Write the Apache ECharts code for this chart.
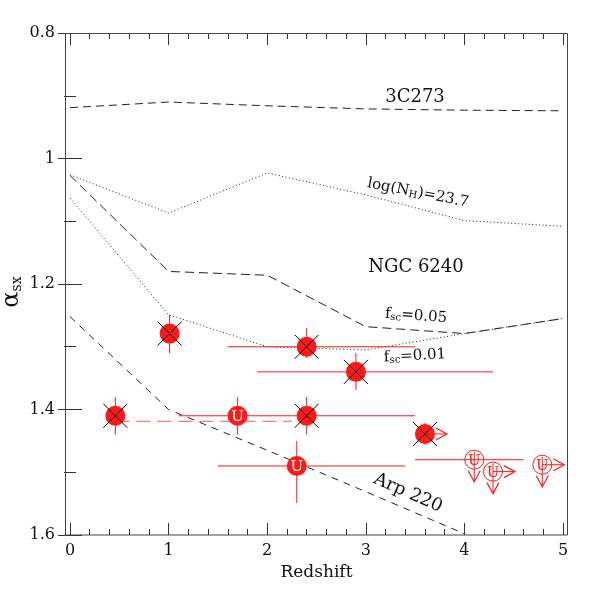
<!DOCTYPE html>
<html>
<head>
<meta charset="utf-8">
<script src="https://cdn.jsdelivr.net/npm/echarts@6/dist/echarts.min.js"></script>
<style>html,body{margin:0;padding:0;background:#fff}#c{width:599px;height:599px}</style>
</head>
<body>
<div id="c"></div>
<script>
// ---- model curves (redshift vs alpha_sx) ----
const curveZ   = [0, 1, 2, 3, 4, 5];
const c3C273   = [0.919, 0.910, 0.916, 0.921, 0.923, 0.924];
const cLogNH   = [1.026, 1.087, 1.023, 1.058, 1.099, 1.108];
const cFsc05   = [1.027, 1.180, 1.186, 1.268, 1.279, 1.255];
const cFsc01   = [1.063, 1.249, 1.300, 1.305, 1.279, 1.255];
const arpZ     = [0, 1, 2, 3, 4];
const cArp220  = [1.252, 1.400, 1.465, 1.531, 1.598];

// ---- measured sources ----
const pointZ     = [1.01, 2.40, 2.90, 0.46, 1.70, 2.40, 2.30, 3.60, 4.10, 4.29, 4.79];
const pointAlpha = [1.279, 1.300, 1.340, 1.410, 1.410, 1.410, 1.490, 1.439, 1.480, 1.499, 1.488];
const pointType  = ['x', 'x', 'x', 'x', 'u', 'x', 'u', 'x', 'o', 'o', 'o'];
const zErrLow    = [null, 1.60, 1.90, null, 1.10, 2.40, 1.50, null, 3.50, null, null];
const zErrHigh   = [null, 3.50, 4.29, null, 2.40, 3.50, 3.40, null, 4.60, null, null];
const aErrLow    = [1.249, 1.270, 1.310, 1.380, 1.380, 1.380, 1.450, 1.421, null, null, null];
const aErrHigh   = [1.310, 1.318, 1.369, 1.440, 1.440, 1.440, 1.549, 1.456, null, null, null];
const zLowerLim  = [0, 0, 0, 0, 0, 0, 0, 1, 0, 1, 1];
const aUpperLim  = [0, 0, 0, 0, 0, 0, 0, 0, 1, 1, 1];
// photometric redshift range of the z~0.46 source (dashed)
const rangeZ     = [0.46, 2.25];
const rangeAlpha = [1.419, 1.419];

const SERIF = '"DejaVu Serif", "Liberation Serif", serif';
const RED = '#ff1a1a';

function renderPoint(params, api) {
  const i = params.dataIndex;
  const z = pointZ[i], a = pointAlpha[i];
  const c = api.coord([z, a]);
  const ch = [];
  const ln = (x1, y1, x2, y2, col, w) => ch.push({type: 'line', shape: {x1, y1, x2, y2}, style: {stroke: col || RED, lineWidth: w || 1}});
  if (zErrLow[i] != null) {
    const p = api.coord([zErrLow[i], a]), q = api.coord([zErrHigh[i], a]);
    ln(p[0], p[1], q[0], q[1]);
  }
  if (aErrLow[i] != null) {
    const p = api.coord([z, aErrLow[i]]), q = api.coord([z, aErrHigh[i]]);
    ln(p[0], p[1], q[0], q[1]);
  }
  const cx = c[0], cy = c[1];
  if (zLowerLim[i]) {
    ln(cx, cy, cx + 22, cy);
    ch.push({type: 'polyline', shape: {points: [[cx + 11, cy - 6], [cx + 22, cy], [cx + 11, cy + 6]]}, style: {stroke: RED, fill: null, lineWidth: 1.2}});
  }
  if (aUpperLim[i]) {
    ln(cx, cy - 8, cx, cy + 22);
    ch.push({type: 'polyline', shape: {points: [[cx - 6, cy + 11], [cx, cy + 22], [cx + 6, cy + 11]]}, style: {stroke: RED, fill: null, lineWidth: 1.2}});
  }
  const t = pointType[i];
  if (t === 'x' || t === 'u') {
    ch.push({type: 'circle', shape: {cx, cy, r: 10}, style: {fill: RED, stroke: null}});
  } else {
    ch.push({type: 'circle', shape: {cx, cy, r: 9.5}, style: {fill: null, stroke: RED, lineWidth: 1}});
  }
  if (t === 'x') {
    ln(cx - 12, cy - 12, cx + 12, cy + 12, '#000');
    ln(cx - 12, cy + 12, cx + 12, cy - 12, '#000');
  } else if (t === 'u') {
    ch.push({type: 'text', x: cx, y: cy + 1, style: {text: 'U', fill: '#fff', font: '15px ' + SERIF, align: 'center', verticalAlign: 'middle'}});
  } else {
    ch.push({type: 'text', x: cx, y: cy + 1, style: {text: 'U', fill: RED, font: '15px ' + SERIF, align: 'center', verticalAlign: 'middle'}});
  }
  return {type: 'group', children: ch};
}

const lineSeries = (name, zs, ys, dash) => ({
  name, type: 'line', xAxisIndex: 0, yAxisIndex: 0,
  data: zs.map((z, k) => [z, ys[k]]),
  showSymbol: false, symbol: 'none', silent: true,
  lineStyle: {color: '#222', width: 1, type: dash},
  z: 2
});

const tickLabel = {fontFamily: SERIF, fontSize: 16, color: '#111'};

const chart = echarts.init(document.getElementById('c'), null, {renderer: 'canvas'});
chart.setOption({
  animation: false,
  backgroundColor: '#fff',
  grid: {left: 70, top: 33, width: 493, height: 502, outerBoundsMode: 'none', containLabel: false},
  xAxis: [
    {type: 'value', position: 'bottom', min: 0, max: 5, interval: 1,
     axisLine: {show: false}, splitLine: {show: false},
     axisTick: {inside: true, length: 12, lineStyle: {color: '#333'}},
     minorTick: {show: true, splitNumber: 5, length: 6, lineStyle: {color: '#333'}},
     axisLabel: Object.assign({margin: 8}, tickLabel),
     name: 'Redshift', nameLocation: 'middle', nameGap: 27,
     nameTextStyle: {fontFamily: SERIF, fontSize: 17, color: '#111'}},
    {type: 'value', position: 'top', min: 0, max: 5, interval: 1,
     axisLine: {show: false}, splitLine: {show: false},
     axisTick: {inside: true, length: 12, lineStyle: {color: '#333'}},
     minorTick: {show: true, splitNumber: 5, length: 6, lineStyle: {color: '#333'}},
     axisLabel: {show: false}}
  ],
  yAxis: [
    {type: 'value', position: 'left', offset: 5, inverse: true, min: 0.8, max: 1.6, interval: 0.2,
     axisLine: {show: false}, splitLine: {show: false},
     axisTick: {inside: true, length: 12, lineStyle: {color: '#333'}},
     minorTick: {show: true, splitNumber: 2, length: 6, lineStyle: {color: '#333'}},
     axisLabel: Object.assign({margin: 10}, tickLabel)},
    {type: 'value', position: 'right', offset: 5, inverse: true, min: 0.8, max: 1.6, interval: 0.2,
     axisLine: {show: false}, splitLine: {show: false},
     axisTick: {inside: true, length: 12, lineStyle: {color: '#333'}},
     minorTick: {show: true, splitNumber: 2, length: 6, lineStyle: {color: '#333'}},
     axisLabel: {show: false}}
  ],
  series: [
    lineSeries('3C273', curveZ, c3C273, [8, 5]),
    lineSeries('log(NH)=23.7', curveZ, cLogNH, [1, 2.5]),
    lineSeries('NGC 6240 fsc=0.05', curveZ, cFsc05, [9, 5]),
    lineSeries('NGC 6240 fsc=0.01', curveZ, cFsc01, [1, 2.5]),
    lineSeries('Arp 220', arpZ, cArp220, [7, 6]),
    {name: 'z range', type: 'line', data: rangeZ.map((z, k) => [z, rangeAlpha[k]]),
     showSymbol: false, symbol: 'none', silent: true,
     lineStyle: {color: '#ff7a7a', width: 1.2, type: [14, 7]}, z: 3},
    {name: 'sources', type: 'custom', xAxisIndex: 0, yAxisIndex: 0,
     data: pointZ.map((z, k) => [z, pointAlpha[k]]),
     encode: {x: 0, y: 1}, renderItem: renderPoint, silent: true, z: 5}
  ],
  graphic: [
    {type: 'rect', shape: {x: 65.5, y: 33.5, width: 502, height: 501.5}, style: {fill: null, stroke: '#444', lineWidth: 1}, silent: true, z: 100},
    {type: 'text', x: 12, y: 292, rotation: Math.PI / 2, silent: true,
     style: {text: '{a|α}{b|sx}', align: 'center', verticalAlign: 'middle', fill: '#111',
       rich: {a: {font: '24px ' + SERIF, fill: '#111'}, b: {font: '14px ' + SERIF, fill: '#111', verticalAlign: 'bottom', padding: [10, 0, 0, 0]}}}},
    {type: 'text', x: 415, y: 97, silent: true,
     style: {text: '3C273', font: '18px ' + SERIF, fill: '#111', align: 'center', verticalAlign: 'middle'}},
    {type: 'text', x: 416, y: 267, silent: true,
     style: {text: 'NGC 6240', font: '18px ' + SERIF, fill: '#111', align: 'center', verticalAlign: 'middle'}},
    {type: 'text', x: 418, y: 193, rotation: -11 * Math.PI / 180, silent: true,
     style: {text: '{n|log(N}{s|H}{n|)=23.7}', align: 'center', verticalAlign: 'middle', fill: '#111',
       rich: {n: {font: '15px ' + SERIF, fill: '#111'}, s: {font: '10px ' + SERIF, fill: '#111', verticalAlign: 'bottom', padding: [6, 0, 0, 0]}}}},
    {type: 'text', x: 416, y: 316, rotation: -4 * Math.PI / 180, silent: true,
     style: {text: '{n|f}{s|sc}{n|=0.05}', align: 'center', verticalAlign: 'middle', fill: '#111',
       rich: {n: {font: '15px ' + SERIF, fill: '#111'}, s: {font: '10px ' + SERIF, fill: '#111', verticalAlign: 'bottom', padding: [6, 0, 0, 0]}}}},
    {type: 'text', x: 415, y: 356, rotation: 3 * Math.PI / 180, silent: true,
     style: {text: '{n|f}{s|sc}{n|=0.01}', align: 'center', verticalAlign: 'middle', fill: '#111',
       rich: {n: {font: '15px ' + SERIF, fill: '#111'}, s: {font: '10px ' + SERIF, fill: '#111', verticalAlign: 'bottom', padding: [6, 0, 0, 0]}}}},
    {type: 'text', x: 408, y: 493, rotation: -24 * Math.PI / 180, silent: true,
     style: {text: 'Arp 220', font: '18px ' + SERIF, fill: '#111', align: 'center', verticalAlign: 'middle'}}
  ]
});
</script>
</body>
</html>
